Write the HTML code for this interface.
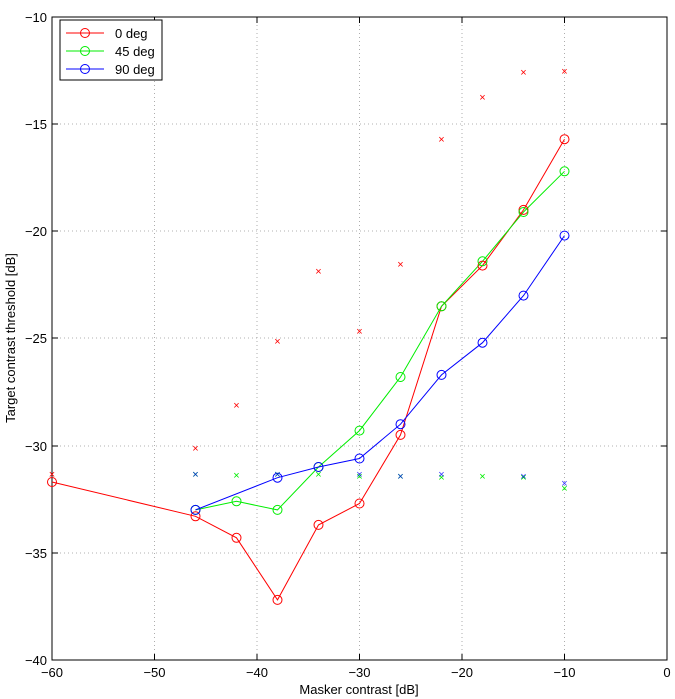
<!DOCTYPE html>
<html><head><meta charset="utf-8"><style>body{margin:0;background:#fff}svg{display:block}</style></head><body>
<svg width="675" height="699" xmlns="http://www.w3.org/2000/svg" font-family="Liberation Sans, sans-serif" font-size="13">
<rect width="675" height="699" fill="#fff"/>
<g stroke="#999" stroke-width="0.8" stroke-dasharray="1,3">
<line x1="154.5" y1="17" x2="154.5" y2="660"/><line x1="257" y1="17" x2="257" y2="660"/><line x1="359.5" y1="17" x2="359.5" y2="660"/><line x1="462" y1="17" x2="462" y2="660"/><line x1="564.5" y1="17" x2="564.5" y2="660"/>
<line x1="52" y1="124" x2="667" y2="124"/><line x1="52" y1="231" x2="667" y2="231"/><line x1="52" y1="338" x2="667" y2="338"/><line x1="52" y1="446" x2="667" y2="446"/><line x1="52" y1="553" x2="667" y2="553"/>
</g>
<rect x="52" y="17" width="615" height="643" fill="none" stroke="#000" stroke-width="1"/>
<g stroke="#000" stroke-width="1">
<line x1="154.5" y1="660" x2="154.5" y2="654"/><line x1="257" y1="660" x2="257" y2="654"/><line x1="359.5" y1="660" x2="359.5" y2="654"/><line x1="462" y1="660" x2="462" y2="654"/><line x1="564.5" y1="660" x2="564.5" y2="654"/>
<line x1="154.5" y1="17" x2="154.5" y2="23"/><line x1="257" y1="17" x2="257" y2="23"/><line x1="359.5" y1="17" x2="359.5" y2="23"/><line x1="462" y1="17" x2="462" y2="23"/><line x1="564.5" y1="17" x2="564.5" y2="23"/>
<line x1="52" y1="124" x2="58" y2="124"/><line x1="52" y1="231" x2="58" y2="231"/><line x1="52" y1="338" x2="58" y2="338"/><line x1="52" y1="446" x2="58" y2="446"/><line x1="52" y1="553" x2="58" y2="553"/>
<line x1="667" y1="124" x2="661" y2="124"/><line x1="667" y1="231" x2="661" y2="231"/><line x1="667" y1="338" x2="661" y2="338"/><line x1="667" y1="446" x2="661" y2="446"/><line x1="667" y1="553" x2="661" y2="553"/>
</g>
<g text-anchor="middle">
<text x="52" y="677">−60</text><text x="154.5" y="677">−50</text><text x="257" y="677">−40</text><text x="359.5" y="677">−30</text><text x="462" y="677">−20</text><text x="564.5" y="677">−10</text><text x="667" y="677">0</text>
<text x="359" y="694">Masker contrast [dB]</text>
</g>
<g text-anchor="end">
<text x="47" y="22">−10</text><text x="47" y="129">−15</text><text x="47" y="236">−20</text><text x="47" y="343">−25</text><text x="47" y="451">−30</text><text x="47" y="558">−35</text><text x="47" y="665">−40</text>
</g>
<text transform="translate(15,338) rotate(-90)" text-anchor="middle">Target contrast threshold [dB]</text>
<g fill="none" stroke-width="1">
<polyline stroke="#f00" points="52,482 195.5,516.3 236.5,537.8 277.5,599.9 318.5,524.9 359.5,503.5 400.5,434.9 441.5,306.3 482.5,265.6 523.5,209.9 564.5,139.2"/>
<polyline stroke="#0e0" points="195.5,509.9 236.5,501.3 277.5,509.9 318.5,467 359.5,430.6 400.5,377 441.5,306.3 482.5,261.3 523.5,212 564.5,171.3"/>
<polyline stroke="#00f" points="195.5,509.9 277.5,477.7 318.5,467 359.5,458.5 400.5,424.2 441.5,374.9 482.5,342.7 523.5,295.6 564.5,235.6"/>
<g stroke="#f00">
<circle cx="52" cy="482" r="4.5"/><circle cx="195.5" cy="516.3" r="4.5"/><circle cx="236.5" cy="537.8" r="4.5"/><circle cx="277.5" cy="599.9" r="4.5"/><circle cx="318.5" cy="524.9" r="4.5"/><circle cx="359.5" cy="503.5" r="4.5"/><circle cx="400.5" cy="434.9" r="4.5"/><circle cx="441.5" cy="306.3" r="4.5"/><circle cx="482.5" cy="265.6" r="4.5"/><circle cx="523.5" cy="209.9" r="4.5"/><circle cx="564.5" cy="139.2" r="4.5"/>
</g>
<g stroke="#0e0">
<circle cx="195.5" cy="509.9" r="4.5"/><circle cx="236.5" cy="501.3" r="4.5"/><circle cx="277.5" cy="509.9" r="4.5"/><circle cx="318.5" cy="467" r="4.5"/><circle cx="359.5" cy="430.6" r="4.5"/><circle cx="400.5" cy="377" r="4.5"/><circle cx="441.5" cy="306.3" r="4.5"/><circle cx="482.5" cy="261.3" r="4.5"/><circle cx="523.5" cy="212" r="4.5"/><circle cx="564.5" cy="171.3" r="4.5"/>
</g>
<g stroke="#00f">
<circle cx="195.5" cy="509.9" r="4.5"/><circle cx="277.5" cy="477.7" r="4.5"/><circle cx="318.5" cy="467" r="4.5"/><circle cx="359.5" cy="458.5" r="4.5"/><circle cx="400.5" cy="424.2" r="4.5"/><circle cx="441.5" cy="374.9" r="4.5"/><circle cx="482.5" cy="342.7" r="4.5"/><circle cx="523.5" cy="295.6" r="4.5"/><circle cx="564.5" cy="235.6" r="4.5"/>
</g>
</g>
<g font-size="11" text-anchor="middle" dominant-baseline="central">
<g fill="#f00">
<text x="52" y="475">×</text><text x="195.5" y="449">×</text><text x="236.5" y="406">×</text><text x="277.5" y="342">×</text><text x="318.5" y="272">×</text><text x="359.5" y="332">×</text><text x="400.5" y="265">×</text><text x="441.5" y="140">×</text><text x="482.5" y="98">×</text><text x="523.5" y="73">×</text><text x="564.5" y="72">×</text>
</g>
<g fill="#0e0">
<text x="195.5" y="475">×</text><text x="236.5" y="476">×</text><text x="277.5" y="475">×</text><text x="318.5" y="475">×</text><text x="359.5" y="477">×</text><text x="400.5" y="477">×</text><text x="441.5" y="478">×</text><text x="482.5" y="477">×</text><text x="523.5" y="478">×</text><text x="564.5" y="489">×</text>
</g>
<g fill="#00f" fill-opacity="0.8">
<text x="195.5" y="475">×</text><text x="277.5" y="475">×</text><text x="359.5" y="475">×</text><text x="400.5" y="477">×</text><text x="441.5" y="475">×</text><text x="523.5" y="477">×</text><text x="564.5" y="484">×</text>
</g>
</g>
<rect x="60" y="20" width="102" height="60" fill="#fff" stroke="#000" stroke-width="1"/>
<g stroke-width="1" fill="none">
<line x1="66" y1="33" x2="104" y2="33" stroke="#f00"/><circle cx="85" cy="33" r="4.5" stroke="#f00"/>
<line x1="66" y1="51" x2="104" y2="51" stroke="#0e0"/><circle cx="85" cy="51" r="4.5" stroke="#0e0"/>
<line x1="66" y1="69" x2="104" y2="69" stroke="#00f"/><circle cx="85" cy="69" r="4.5" stroke="#00f"/>
</g>
<text x="115" y="38">0 deg</text><text x="115" y="56">45 deg</text><text x="115" y="74">90 deg</text>
</svg>
</body></html>
